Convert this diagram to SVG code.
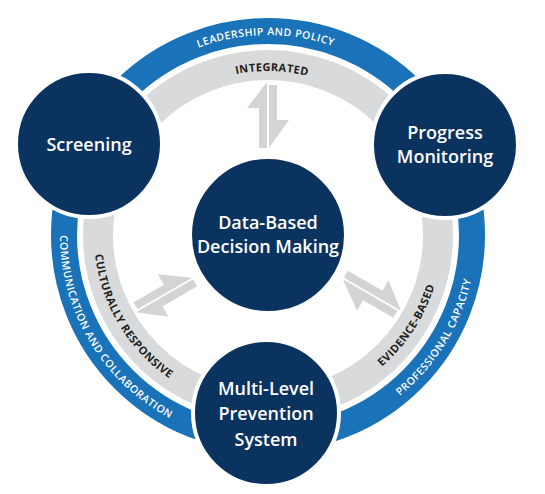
<svg xmlns="http://www.w3.org/2000/svg" xmlns:xlink="http://www.w3.org/1999/xlink" width="545" height="494" viewBox="0 0 545 494">
  <style>
    .band-blue { fill: none; stroke: #1a72b9; stroke-width: 26; }
    .band-gray { fill: none; stroke: #d9dadb; stroke-width: 30; }
    .node { fill: #0b335f; stroke: #ffffff; stroke-width: 4; }
    .node-label { font-family: "Open Sans", "Noto Sans", "Liberation Sans", sans-serif; font-weight: 600; font-size: 18px; fill: #ffffff; text-anchor: middle; }
    .blue-label { font-family: "Open Sans", "Noto Sans", "Liberation Sans", sans-serif; font-weight: 600; font-size: 10.5px; fill: #ffffff; letter-spacing: 0.5px; text-anchor: middle; }
    .gray-label { font-family: "Open Sans", "Noto Sans", "Liberation Sans", sans-serif; font-weight: 700; font-size: 11px; fill: #231f20; letter-spacing: 0.4px; text-anchor: middle; }
    .arrow { fill: #d3d4d6; }
  </style>
  <defs>
    <path id="p-top-blue" d="M80.1,166.6 A200,200 0 0 1 455.9,166.6"/>
    <path id="p-top-gray" d="M113.9,178.9 A164,164 0 0 1 422.1,178.9"/>
    <path id="p-left-blue" d="M72.5,163.9 A208,208 0 0 0 231.9,439.8"/>
    <path id="p-left-gray" d="M104.5,175.5 A174,174 0 0 0 237.8,406.4"/>
    <path id="p-right-blue" d="M304.1,439.8 A208,208 0 0 0 463.5,163.9"/>
    <path id="p-right-gray" d="M298.2,406.4 A174,174 0 0 0 431.5,175.5"/>
    <g id="bolt">
      <polygon points="267,82 247,108 259,108 259,148 267,148"/>
      <polygon points="269,85 277,85 277,120 289,120 269,148"/>
    </g>
  </defs>

  <g id="rings">
    <circle class="band-blue" cx="268" cy="235" r="204"/>
    <circle class="band-gray" cx="268" cy="235" r="170"/>
    <text class="blue-label"><textPath xlink:href="#p-top-blue" href="#p-top-blue" startOffset="49.5%">LEADERSHIP AND POLICY</textPath></text>
    <text class="gray-label"><textPath xlink:href="#p-top-gray" href="#p-top-gray" startOffset="51%">INTEGRATED</textPath></text>
    <text class="blue-label"><textPath xlink:href="#p-left-blue" href="#p-left-blue" startOffset="51%">COMMUNICATION AND COLLABORATION</textPath></text>
    <text class="gray-label"><textPath xlink:href="#p-left-gray" href="#p-left-gray" startOffset="51%">CULTURALLY RESPONSIVE</textPath></text>
    <text class="blue-label"><textPath xlink:href="#p-right-blue" href="#p-right-blue" startOffset="48.5%">PROFESSIONAL CAPACITY</textPath></text>
    <text class="gray-label"><textPath xlink:href="#p-right-gray" href="#p-right-gray" startOffset="47%">EVIDENCE-BASED</textPath></text>
  </g>

  <g id="connectors" class="arrow">
    <use xlink:href="#bolt" href="#bolt"/>
    <use xlink:href="#bolt" href="#bolt" transform="rotate(-120 268 235)"/>
    <use xlink:href="#bolt" href="#bolt" transform="rotate(120 268 235)"/>
  </g>

  <g id="node-screening">
    <circle class="node" cx="89" cy="144" r="73"/>
    <text class="node-label" x="89" y="151">Screening</text>
  </g>

  <g id="node-progress-monitoring">
    <circle class="node" cx="445" cy="145" r="73"/>
    <text class="node-label" x="445" y="139">Progress</text>
    <text class="node-label" x="445" y="163">Monitoring</text>
  </g>

  <g id="node-data-based-decision-making">
    <circle class="node" cx="268" cy="235" r="78"/>
    <text class="node-label" x="268" y="229">Data-Based</text>
    <text class="node-label" x="268" y="253">Decision Making</text>
  </g>

  <g id="node-multi-level-prevention-system">
    <circle class="node" cx="266" cy="413" r="73"/>
    <text class="node-label" x="266" y="395">Multi-Level</text>
    <text class="node-label" x="266" y="420">Prevention</text>
    <text class="node-label" x="266" y="446">System</text>
  </g>
</svg>
